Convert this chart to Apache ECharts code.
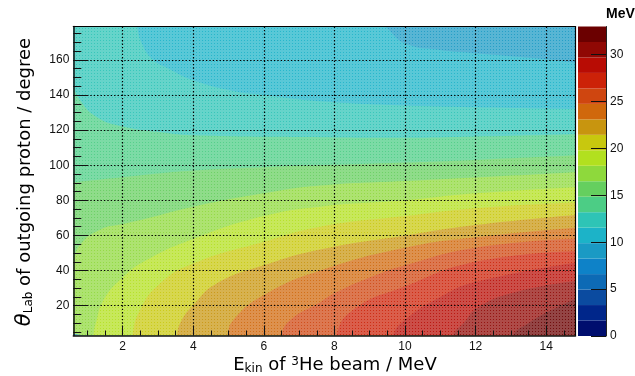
<!DOCTYPE html>
<html><head><meta charset="utf-8">
<style>html,body{margin:0;padding:0;background:#fff}#c{width:635px;height:376px}</style>
<script src="https://cdn.jsdelivr.net/npm/echarts@6/dist/echarts.min.js"></script>
</head><body><div id="c"></div>
<script>
var xMajor=[2,4,6,8,10,12,14];
var xMinor=[1,1.5,2.5,3,3.5,4.5,5,5.5,6.5,7,7.5,8.5,9,9.5,10.5,11,11.5,12.5,13,13.5,14.5];
var yMajor=[20,40,60,80,100,120,140,160];
var yMinor=[5,10,15,25,30,35,45,50,55,65,70,75,85,90,95,105,110,115,125,130,135,145,150,155,165,170,175];
var barTicks=[0,5,10,15,20,25,30];
var barLevels=[0,1.65,3.3,4.95,6.6,8.25,9.9,11.55,13.2,14.85,16.5,18.15,19.8,21.45,23.1,24.75,26.4,28.05,29.7,31.35,33];
var bandColors=['#000e6e','#00268a','#0b4ba0','#0d6ab5','#0e82c8','#1a9ac4','#1cb3c8','#2ec4b6','#4ccd85','#65cf5f','#8ed93c','#b2e01f','#c8c80e','#c8950f','#d0680c','#cf4610','#cc2208','#b80c04','#900804','#6b0000'];
var c0=[[0.6,179],[14.83,179]];
var c1=[[0.6,183],[9.1,183],[9.43,179],[10,169.4],[11,165.6],[12,163.8],[14,160.3],[14.83,158.3]];
var c2=[[0.6,186],[2.3,186],[2.4,179],[2.54,169.5],[2.86,160],[3.3,155],[4,148.4],[5.13,142.3],[6,140],[7.6,136.4],[10,134],[12,133],[14.83,132]];
var c3=[[0.6,145],[0.79,137],[1.26,127.5],[2,122.1],[3,119],[4,117],[7.6,115.9],[10,115.6],[12,116.3],[14.83,117.6]];
var c4=[[0.6,90.3],[2,93.2],[4,97],[6,98.9],[7.6,99.9],[10,101.5],[12,103],[14.83,105.6]];
var c5=[[0.6,44.5],[0.79,54.7],[1.36,63.3],[2,66.5],[2.68,69.7],[4,76.4],[6,84],[7.6,88.4],[10,91],[12,93],[14.83,96]];
var c6=[[1.15,-2],[1.17,3],[1.26,11.7],[1.45,23],[2,36],[2.68,46],[4,58],[6,71],[7.6,76.4],[10,80],[12,84],[14.83,87.5]];
var c7=[[2.26,-2],[2.28,3],[2.49,17.4],[3.06,32.6],[4,44],[6,56.4],[7.6,65],[10,71],[12,75.5],[14.83,78.7]];
var c8=[[3.5,-2],[3.53,3],[3.67,11.7],[4,20.3],[4.66,32.6],[6,43],[7.6,52],[10,60],[12,66],[14.83,71.7]];
var c9=[[4.94,-2],[4.97,3],[5.13,11.7],[6,26],[7.6,40],[10,53],[12,59],[14.83,64.4]];
var c10=[[6.47,-2],[6.5,3],[6.74,11.7],[7.6,22],[8,27],[9,36],[10,43],[12,53],[14.83,58.1]];
var c11=[[8.03,-2],[8.06,3],[8.52,17.4],[10,31],[12,45],[14.83,51]];
var c12=[[9.62,-2],[9.66,3],[10,12],[11,25],[12,33.5],[14.83,44.5]];
var c13=[[11.32,-2],[11.36,3],[11.7,11],[12,18],[13,27],[14.83,34]];
var c14=[[13.02,-2],[13.06,3],[13.5,10],[14,16],[14.83,24]];
var contours=[c0,c1,c2,c3,c4,c5,c6,c7,c8,c9,c10,c11,c12,c13,c14];
var cornerSpot=[[0.6,4],[0.9,3]];

function rgb(h){return [1,3,5].map(function(i){return parseInt(h.substr(i,2),16)})}
function mix(a,t){return 'rgb('+a.map(function(v){return Math.round(v+(255-v)*t)}).join(',')+')'}
function tile(hex){
  var n=document.createElement('canvas');n.width=n.height=3;
  var g=n.getContext('2d'),a=rgb(hex);
  g.fillStyle=mix(a,0.27);g.fillRect(0,0,3,3);
  g.fillStyle=mix(a,0.05);g.fillRect(1,1,1,1);
  return {image:n,repeat:'repeat'};
}
var FONT='"Liberation Sans"',TFONT='"DejaVu Sans"';
var series=contours.map(function(c,i){
  return {type:'line',xAxisIndex:0,yAxisIndex:0,data:c,symbol:'none',smooth:0.5,
    lineStyle:{width:0},areaStyle:{color:tile(bandColors[5+i]),opacity:1,origin:'start'},z:2+i*0.01,silent:true};
});
series.push({type:'line',xAxisIndex:0,yAxisIndex:0,data:cornerSpot,symbol:'none',lineStyle:{width:0},
  areaStyle:{color:'#4fa9d8',opacity:1,origin:'start'},silent:true});
bandColors.forEach(function(col,i){
  series.push({type:'bar',xAxisIndex:3,yAxisIndex:3,stack:'bar',barWidth:'100%',
    data:[barLevels[i+1]-barLevels[i]],itemStyle:{color:col},silent:true});
});
var XMIN=0.6,XMAX=14.83,YMIN=3,YMAX=179;
var lineK={color:'#000',width:1.2};
var chart=echarts.init(document.getElementById('c'),null,{renderer:'canvas'});
chart.setOption({
  animation:false,backgroundColor:'#fff',
  grid:[{left:73.3,right:59.5,top:26.5,bottom:40.5},{left:578,right:29,top:26.5,bottom:40}],
  xAxis:[
   {type:'value',gridIndex:0,position:'bottom',min:XMIN,max:XMAX,z:20,
    axisLine:{show:true,onZero:false,lineStyle:{color:'#111',width:1.5}},
    axisTick:{show:true,inside:true,length:10,customValues:xMajor,lineStyle:{color:'#111',width:1}},
    axisLabel:{customValues:xMajor,margin:5,fontFamily:FONT,fontSize:12,color:'#111'},
    splitLine:{show:true,lineStyle:{color:'#000',width:1.2,type:[1.4,2]}}},
   {type:'value',gridIndex:0,position:'bottom',min:XMIN,max:XMAX,z:20,
    axisLine:{show:false,onZero:false},
    axisTick:{show:true,inside:true,length:5,customValues:xMinor,lineStyle:{color:'#111',width:1}},
    axisLabel:{show:false},splitLine:{show:false}},
   {type:'value',gridIndex:0,position:'top',min:XMIN,max:XMAX,z:20,
    axisLine:{show:true,onZero:false,lineStyle:lineK},axisTick:{show:false},axisLabel:{show:false},splitLine:{show:false}},
   {type:'category',gridIndex:1,data:['MeV'],axisLine:{show:false},axisTick:{show:false},axisLabel:{show:false},splitLine:{show:false}}
  ],
  yAxis:[
   {type:'value',gridIndex:0,position:'left',min:YMIN,max:YMAX,z:20,
    axisLine:{show:true,onZero:false,lineStyle:{color:'#111',width:1.5}},
    axisTick:{show:true,inside:true,length:15,customValues:yMajor,lineStyle:{color:'#111',width:1}},
    axisLabel:{customValues:yMajor,margin:4,fontFamily:FONT,fontSize:12,color:'#111'},
    splitLine:{show:true,lineStyle:{color:'#000',width:1.2,type:[1.4,2]}}},
   {type:'value',gridIndex:0,position:'left',min:YMIN,max:YMAX,z:20,
    axisLine:{show:false,onZero:false},
    axisTick:{show:true,inside:true,length:8,customValues:yMinor,lineStyle:{color:'#111',width:1}},
    axisLabel:{show:false},splitLine:{show:false}},
   {type:'value',gridIndex:0,position:'right',min:YMIN,max:YMAX,z:20,
    axisLine:{show:true,onZero:false,lineStyle:lineK},axisTick:{show:false},axisLabel:{show:false},splitLine:{show:false}},
   {type:'value',gridIndex:1,position:'right',min:0,max:33,interval:5,z:20,
    axisLine:{show:true,onZero:false,lineStyle:{color:'#222',width:1}},
    axisTick:{show:true,inside:true,length:15,customValues:barTicks,lineStyle:{color:'#111',width:1}},
    axisLabel:{customValues:barTicks,margin:4,fontFamily:FONT,fontSize:12,color:'#111'},splitLine:{show:false}}
  ],
  series:series,
  graphic:[
   {type:'text',left:606,top:7,style:{text:'MeV',fontFamily:FONT,fontWeight:'bold',fontSize:14,fill:'#000'}},
   {type:'text',x:335,y:365,style:{text:'{n|E}{s|kin}{n| of }{u|3}{n|He beam / MeV}',align:'center',verticalAlign:'middle',
     rich:{n:{fontFamily:TFONT,fontSize:18,color:'#111'},s:{fontFamily:TFONT,fontSize:12,color:'#111',padding:[7,0,0,0]},u:{fontFamily:TFONT,fontSize:12,color:'#111',padding:[0,0,7,0]}}}},
   {type:'text',x:25,y:182,rotation:Math.PI/2,style:{text:'{t|θ}{s|Lab}{n| of outgoing proton / degree}',align:'center',verticalAlign:'middle',
     rich:{n:{fontFamily:TFONT,fontSize:18,color:'#111'},t:{fontFamily:TFONT,fontStyle:'italic',fontSize:21,color:'#111'},s:{fontFamily:TFONT,fontSize:12,color:'#111',padding:[7,0,0,0]}}}}
  ]
});
</script></body></html>
